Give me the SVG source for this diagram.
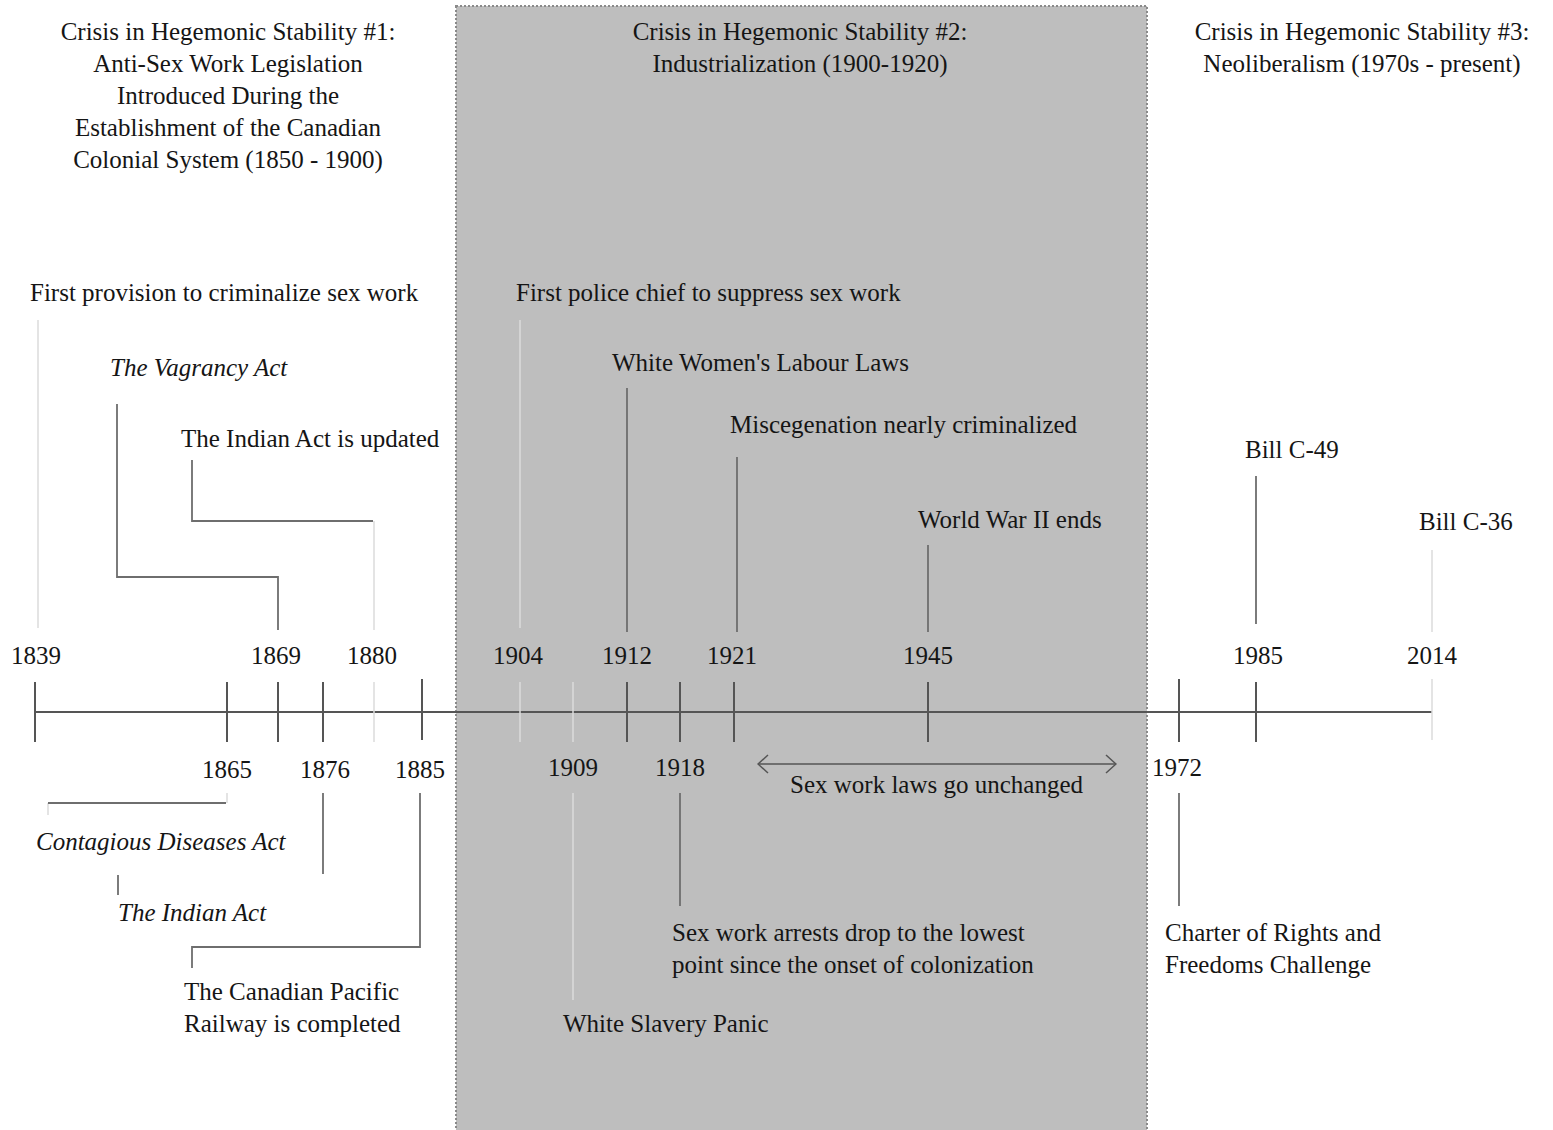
<svg xmlns="http://www.w3.org/2000/svg" width="1553" height="1130" viewBox="0 0 1553 1130">
<defs>
<style>
text{font-family:"Liberation Serif","Times New Roman",serif;font-size:25px;fill:#151515}
.i{font-style:italic}
.m{text-anchor:middle}
.d{stroke:#555555;stroke-width:2;fill:none}
.l{stroke:#dcdcdc;stroke-width:1.5;fill:none}
.lg{stroke:#6e6e6e;stroke-width:1.8;fill:none}
</style>
<marker id="ah" viewBox="0 0 12 20" refX="11" refY="10" markerWidth="12" markerHeight="20" markerUnits="userSpaceOnUse" orient="auto-start-reverse">
<path d="M1,1 L11,10 L1,19" fill="none" stroke="#555555" stroke-width="1.5"/>
</marker>
</defs>
<rect width="1553" height="1130" fill="#ffffff"/>
<g id="era2-panel">
<rect x="456" y="6" width="691" height="1130" fill="#bebebe" stroke="#8a8a8a" stroke-width="2" stroke-dasharray="2,2"/>
</g>
<g id="headings">
<g id="era1"><text class="m" x="228" y="40">Crisis in Hegemonic Stability #1:</text><text class="m" x="228" y="72">Anti-Sex Work Legislation</text><text class="m" x="228" y="104">Introduced During the</text><text class="m" x="228" y="136">Establishment of the Canadian</text><text class="m" x="228" y="168">Colonial System (1850 - 1900)</text></g>
<g id="era2"><text class="m" x="800" y="40">Crisis in Hegemonic Stability #2:</text><text class="m" x="800" y="72">Industrialization (1900-1920)</text></g>
<g id="era3"><text class="m" x="1362" y="40">Crisis in Hegemonic Stability #3:</text><text class="m" x="1362" y="72">Neoliberalism (1970s - present)</text></g>
</g>
<g id="connectors">
<line class="d" x1="35" y1="712" x2="1432" y2="712"/>
<path class="d" d="M35,682V742M227,682V742M278,682V742M323,682V742M422,679V740M627,682V742M680,682V742M734,682V742M928,682V742M1179,679V742M1256,682V742"/>
<path class="l" d="M374,682V742M520,682V742M573,682V742M1432,679V740"/>
<path class="l" d="M38,320V628M520,320V628M1432,550V632M374,521V630M573,793V1000M227,793V803M48,803V815"/>
<path class="lg" d="M117,404V577H278V630M192,460V521H373M1256,476V624M627,388V632M737,457V632M928,545V632M48,803H226M323,793V874M118,875V895M420,793V947H192V968M680,793V906M1179,793V906"/>
<line x1="758" y1="764" x2="1116" y2="764" stroke="#555555" stroke-width="1.5" marker-start="url(#ah)" marker-end="url(#ah)"/>
</g>
<g id="years">
<text class="m" x="36" y="664">1839</text><text class="m" x="276" y="664">1869</text><text class="m" x="372" y="664">1880</text><text class="m" x="518" y="664">1904</text><text class="m" x="627" y="664">1912</text><text class="m" x="732" y="664">1921</text><text class="m" x="928" y="664">1945</text><text class="m" x="1258" y="664">1985</text><text class="m" x="1432" y="664">2014</text>
<text class="m" x="227" y="778">1865</text><text class="m" x="325" y="778">1876</text><text class="m" x="420" y="778">1885</text><text class="m" x="573" y="776">1909</text><text class="m" x="680" y="776">1918</text><text class="m" x="1177" y="776">1972</text>
</g>
<g id="ev-1839"><text x="30" y="301">First provision to criminalize sex work</text></g>
<g id="ev-1869"><text class="i" x="110" y="376">The Vagrancy Act</text></g>
<g id="ev-1880"><text x="181" y="447">The Indian Act is updated</text></g>
<g id="ev-1904"><text x="516" y="301">First police chief to suppress sex work</text></g>
<g id="ev-1912"><text x="612" y="371">White Women's Labour Laws</text></g>
<g id="ev-1921"><text x="730" y="433">Miscegenation nearly criminalized</text></g>
<g id="ev-1945"><text x="918" y="528">World War II ends</text></g>
<g id="ev-1985"><text x="1245" y="458">Bill C-49</text></g>
<g id="ev-2014"><text x="1419" y="530">Bill C-36</text></g>
<g id="ev-unchanged"><text x="790" y="793">Sex work laws go unchanged</text></g>
<g id="ev-1865"><text class="i" x="36" y="850">Contagious Diseases Act</text></g>
<g id="ev-1876"><text class="i" x="118" y="921">The Indian Act</text></g>
<g id="ev-1885"><text x="184" y="1000">The Canadian Pacific</text><text x="184" y="1032">Railway is completed</text></g>
<g id="ev-1909"><text x="563" y="1032">White Slavery Panic</text></g>
<g id="ev-1918"><text x="672" y="941">Sex work arrests drop to the lowest</text><text x="672" y="973">point since the onset of colonization</text></g>
<g id="ev-1972"><text x="1165" y="941">Charter of Rights and</text><text x="1165" y="973">Freedoms Challenge</text></g>
</svg>
